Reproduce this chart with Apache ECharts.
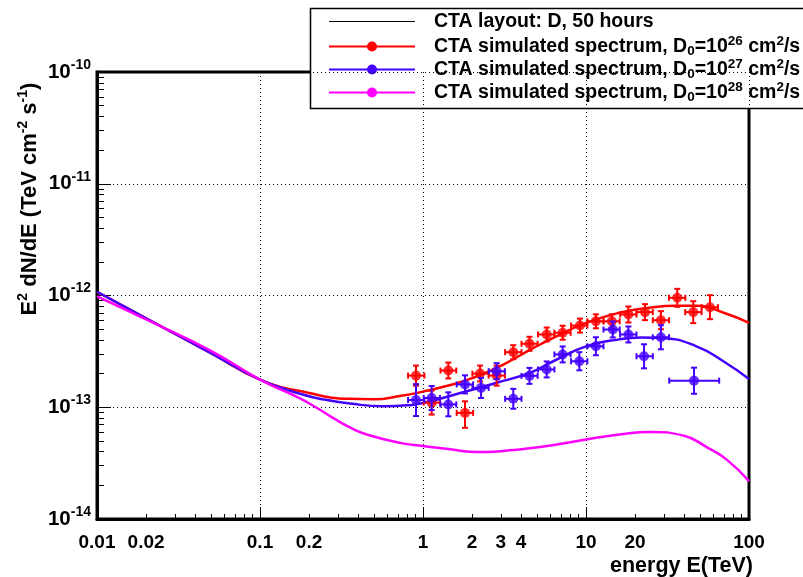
<!DOCTYPE html>
<html><head><meta charset="utf-8">
<script src="https://cdn.jsdelivr.net/npm/echarts@6/dist/echarts.min.js"></script>
<style>html,body{margin:0;padding:0;background:#fff}#c{width:803px;height:577px}</style>
</head><body><div id="c"></div>
<script>
// ---- tick labels ----
const xTickLabels = [0.01, 0.02, 0.1, 0.2, 1, 2, 3, 4, 10, 20, 100];
const yDecadeExponents = [-14, -13, -12, -11, -10];

// ---- model curves (E [TeV], E^2 dN/dE) ----
const redCurveE = [0.01, 0.02, 0.05, 0.1, 0.2, 0.35, 0.5, 0.72, 1, 1.47, 2, 3, 4.5, 6.3, 10, 16, 25, 35, 48, 70, 100];
const redCurveV = [1.08e-12, 6.25e-13, 3.05e-13, 1.77e-13, 1.34e-13, 1.19e-13, 1.18e-13, 1.26e-13, 1.38e-13, 1.58e-13, 1.82e-13, 2.35e-13, 3.25e-13, 4.18e-13, 5.69e-13, 7.0e-13, 7.8e-13, 8.1e-13, 8.1e-13, 7.0e-13, 5.69e-13];
const blueCurveE = [0.01, 0.02, 0.05, 0.1, 0.176, 0.25, 0.356, 0.57, 0.8, 1, 1.85, 2.8, 4.5, 6.3, 10, 16, 22, 30, 47.6, 69.6, 100];
const blueCurveV = [1.08e-12, 6.25e-13, 3.05e-13, 1.77e-13, 1.32e-13, 1.17e-13, 1.08e-13, 1.02e-13, 1.04e-13, 1.09e-13, 1.39e-13, 1.65e-13, 2.03e-13, 2.58e-13, 3.51e-13, 4.05e-13, 4.2e-13, 4.15e-13, 3.51e-13, 2.58e-13, 1.79e-13];
const magCurveE = [0.01, 0.02, 0.05, 0.1, 0.176, 0.22, 0.282, 0.356, 0.452, 0.72, 1, 1.47, 1.93, 2.45, 3.38, 5.23, 10, 16, 24.7, 40, 55, 73, 100];
const magCurveV = [0.98e-12, 6.1e-13, 3.2e-13, 1.77e-13, 1.2e-13, 1.0e-13, 8.0e-14, 6.6e-14, 5.7e-14, 4.8e-14, 4.5e-14, 4.21e-14, 4.0e-14, 3.98e-14, 4.12e-14, 4.4e-14, 5.14e-14, 5.7e-14, 6.02e-14, 5.55e-14, 4.4e-14, 3.4e-14, 2.18e-14];

// ---- simulated data points, D0 = 1e26 ----
const redE   = [0.906, 1.13, 1.43, 1.81, 2.24, 2.83, 3.58, 4.5, 5.74, 7.19, 9.18, 11.5, 14.4, 18.2, 23.0, 28.8, 36.3, 45.5, 57.6];
const redY   = [1.92e-13, 1.10e-13, 2.13e-13, 8.9e-14, 2.0e-13, 1.92e-13, 3.11e-13, 3.7e-13, 4.48e-13, 4.64e-13, 5.38e-13, 5.88e-13, 5.88e-13, 6.76e-13, 7.1e-13, 6.01e-13, 9.53e-13, 7.1e-13, 7.86e-13];
const redYLo = [1.56e-13, 0.86e-13, 1.81e-13, 6.55e-14, 1.70e-13, 1.56e-13, 2.69e-13, 3.2e-13, 3.88e-13, 4.02e-13, 4.66e-13, 5.09e-13, 5.09e-13, 5.73e-13, 6.02e-13, 4.99e-13, 7.92e-13, 5.66e-13, 6.14e-13];
const redYHi = [2.36e-13, 1.41e-13, 2.51e-13, 1.13e-13, 2.36e-13, 2.36e-13, 3.59e-13, 4.27e-13, 5.17e-13, 5.36e-13, 6.21e-13, 6.79e-13, 6.79e-13, 7.97e-13, 8.37e-13, 7.24e-13, 1.147e-12, 8.9e-13, 1.007e-12];
const redXLo = [0.81, 1.01, 1.28, 1.61, 2.01, 2.53, 3.19, 4.02, 5.08, 6.4, 8.1, 10.2, 12.8, 16.2, 20.4, 25.7, 32.3, 40.6, 51.2];
const redXHi = [1.02, 1.27, 1.60, 2.03, 2.53, 3.18, 4.02, 5.05, 6.4, 8.05, 10.2, 12.8, 16.1, 20.4, 25.7, 32.3, 40.7, 51.2, 64.5];

// ---- simulated data points, D0 = 1e27 ----
const blueE   = [0.906, 1.13, 1.43, 1.81, 2.27, 2.83, 3.58, 4.5, 5.74, 7.19, 9.1, 11.5, 14.6, 18.2, 22.7, 28.8, 46];
const blueY   = [1.16e-13, 1.21e-13, 1.06e-13, 1.6e-13, 1.49e-13, 2.1e-13, 1.19e-13, 1.91e-13, 2.18e-13, 2.97e-13, 2.58e-13, 3.51e-13, 4.96e-13, 4.48e-13, 2.86e-13, 4.23e-13, 1.73e-13];
const blueYLo = [0.834e-13, 0.945e-13, 0.83e-13, 1.33e-13, 1.21e-13, 1.78e-13, 0.97e-13, 1.62e-13, 1.85e-13, 2.52e-13, 2.14e-13, 2.92e-13, 4.21e-13, 3.8e-13, 2.23e-13, 3.3e-13, 1.32e-13];
const blueYHi = [1.61e-13, 1.55e-13, 1.36e-13, 1.93e-13, 1.83e-13, 2.48e-13, 1.46e-13, 2.25e-13, 2.57e-13, 3.5e-13, 3.11e-13, 4.23e-13, 5.85e-13, 5.28e-13, 3.66e-13, 5.42e-13, 2.26e-13];
const blueXLo = [0.81, 1.01, 1.28, 1.61, 2.01, 2.53, 3.19, 4.02, 5.08, 6.4, 8.1, 10.2, 12.8, 16.2, 20.4, 25.7, 32.4];
const blueXHi = [1.02, 1.27, 1.60, 2.03, 2.53, 3.18, 4.02, 5.05, 6.4, 8.05, 10.2, 12.8, 16.1, 20.4, 25.7, 32.3, 65.6];

const RED = '#ff0000', BLUE = '#4400ff', MAG = '#ff00ff';
const FONT = 'Liberation Sans, Arial, Helvetica, sans-serif';
const L = Math.log10;

function curve(E, V) { return E.map((e, i) => [L(e), L(V[i])]); }
function pts(E, Y) { return E.map((e, i) => [L(e), L(Y[i])]); }
function errs(E, Y, xlo, xhi, ylo, yhi) {
  return E.map((e, i) => [L(e), L(Y[i]), L(xlo[i]), L(xhi[i]), L(ylo[i]), L(yhi[i])]);
}

const xMinor = [], yMinor = [];
for (let d = -2; d < 2; d++) for (let k = 2; k <= 9; k++) xMinor.push(L(k) + d);
for (let d = -14; d < -10; d++) for (let k = 2; k <= 9; k++) yMinor.push(L(k) + d);

function errRender(color) {
  return function (params, api) {
    const x = api.value(0), y = api.value(1);
    const p = api.coord([x, y]);
    const xl = api.coord([api.value(2), y])[0], xh = api.coord([api.value(3), y])[0];
    const yl = api.coord([x, api.value(4)])[1], yh = api.coord([x, api.value(5)])[1];
    const st = { stroke: color, lineWidth: 2 };
    const c = 3;
    return { type: 'group', children: [
      { type: 'line', shape: { x1: xl, y1: p[1], x2: xh, y2: p[1] }, style: st },
      { type: 'line', shape: { x1: p[0], y1: yl, x2: p[0], y2: yh }, style: st },
      { type: 'line', shape: { x1: xl, y1: p[1] - c, x2: xl, y2: p[1] + c }, style: st },
      { type: 'line', shape: { x1: xh, y1: p[1] - c, x2: xh, y2: p[1] + c }, style: st },
      { type: 'line', shape: { x1: p[0] - c, y1: yl, x2: p[0] + c, y2: yl }, style: st },
      { type: 'line', shape: { x1: p[0] - c, y1: yh, x2: p[0] + c, y2: yh }, style: st }
    ]};
  };
}

const rich = {
  n: { fontSize: 19.5, fontWeight: 'bold', fontFamily: FONT, lineHeight: 24, fill: '#000', color: '#000' },
  sup: { fontSize: 13.5, fontWeight: 'bold', fontFamily: FONT, lineHeight: 13, verticalAlign: 'top', fill: '#000', color: '#000' },
  sub: { fontSize: 13.5, fontWeight: 'bold', fontFamily: FONT, lineHeight: 13, verticalAlign: 'bottom', fill: '#000', color: '#000' }
};

const legendRows = [
  { y: 21.5, color: '#000', marker: false, width: 1, text: '{n|CTA layout: D, 50 hours}' },
  { y: 46.5, color: RED, marker: true, width: 2, text: '{n|CTA simulated spectrum, D}{sub|0}{n|=10}{sup|26}{n| cm}{sup|2}{n|/s}' },
  { y: 69.5, color: BLUE, marker: true, width: 2, text: '{n|CTA simulated spectrum, D}{sub|0}{n|=10}{sup|27}{n| cm}{sup|2}{n|/s}' },
  { y: 92.5, color: MAG, marker: true, width: 2, text: '{n|CTA simulated spectrum, D}{sub|0}{n|=10}{sup|28}{n| cm}{sup|2}{n|/s}' }
];
const legendChildren = [
  { type: 'rect', shape: { x: 310.5, y: 8.5, width: 520, height: 100 }, style: { fill: '#fff', stroke: '#000', lineWidth: 1.5 } }
];
legendRows.forEach(r => {
  legendChildren.push({ type: 'line', shape: { x1: 329, y1: r.y, x2: 415, y2: r.y }, style: { stroke: r.color, lineWidth: r.width } });
  if (r.marker) legendChildren.push({ type: 'circle', shape: { cx: 372, cy: r.y, r: 5 }, style: { fill: r.color } });
  legendChildren.push({ type: 'text', x: 434, y: r.y, style: { text: r.text, rich: rich, verticalAlign: 'middle', align: 'left' } });
});

const chart = echarts.init(document.getElementById('c'), null, { renderer: 'canvas' });
chart.setOption({
  animation: false,
  backgroundColor: '#fff',
  grid: { left: 97, right: 54, top: 72, bottom: 58, show: true, borderColor: '#000', borderWidth: 3, backgroundColor: 'transparent' },
  xAxis: [
    { type: 'value', min: -2, max: 2, interval: 1, position: 'bottom',
      axisLine: { show: true, onZero: false, lineStyle: { color: '#000', width: 3 } },
      axisTick: { show: true, inside: true, length: 12, lineStyle: { color: '#000', width: 1 } },
      axisLabel: { show: true, customValues: xTickLabels.map(v => L(v)), margin: 14, fontSize: 19, fontWeight: 'bold', fontFamily: FONT, color: '#000',
        formatter: v => { const f = xTickLabels.find(t => Math.abs(L(t) - v) < 1e-6); return f === undefined ? '' : String(f); } },
      splitLine: { show: true, lineStyle: { color: '#000', width: 1, type: [1, 3] } } },
    { type: 'value', min: -2, max: 2, position: 'bottom', offset: 0,
      axisLine: { show: false, onZero: false }, axisLabel: { show: false }, splitLine: { show: false },
      axisTick: { show: true, inside: true, length: 5, customValues: xMinor, lineStyle: { color: '#000', width: 1 } } }
  ],
  yAxis: [
    { type: 'value', min: -14, max: -10, interval: 1, position: 'left',
      axisLine: { show: true, onZero: false, lineStyle: { color: '#000', width: 3 } },
      axisTick: { show: true, inside: true, length: 14, lineStyle: { color: '#000', width: 1 } },
      axisLabel: { show: true, margin: 6, formatter: v => '{b|10}{s|' + Math.round(v) + '}',
        rich: { b: { fontSize: 20.5, fontWeight: 'bold', fontFamily: FONT, color: '#000', lineHeight: 28 },
                s: { fontSize: 14, fontWeight: 'bold', fontFamily: FONT, color: '#000', lineHeight: 14, verticalAlign: 'top' } } },
      splitLine: { show: true, lineStyle: { color: '#000', width: 1, type: [1, 3] } } },
    { type: 'value', min: -14, max: -10, position: 'left', offset: 0,
      axisLine: { show: false, onZero: false }, axisLabel: { show: false }, splitLine: { show: false },
      axisTick: { show: true, inside: true, length: 7, customValues: yMinor, lineStyle: { color: '#000', width: 1 } } }
  ],
  series: [
    { type: 'line', name: 'D0=1e26 model', data: curve(redCurveE, redCurveV), smooth: true, showSymbol: false, symbol: 'none', lineStyle: { color: RED, width: 2.5 }, z: 2 },
    { type: 'line', name: 'D0=1e27 model', data: curve(blueCurveE, blueCurveV), smooth: true, showSymbol: false, symbol: 'none', lineStyle: { color: BLUE, width: 2.5 }, z: 3 },
    { type: 'line', name: 'D0=1e28 model', data: curve(magCurveE, magCurveV), smooth: true, showSymbol: false, symbol: 'none', lineStyle: { color: MAG, width: 2.5 }, z: 4 },
    { type: 'custom', name: 'red err', data: errs(redE, redY, redXLo, redXHi, redYLo, redYHi), renderItem: errRender(RED), encode: { x: 0, y: 1 }, z: 5 },
    { type: 'scatter', name: 'red pts', data: pts(redE, redY), symbol: 'circle', symbolSize: 10, itemStyle: { color: RED }, z: 6 },
    { type: 'custom', name: 'blue err', data: errs(blueE, blueY, blueXLo, blueXHi, blueYLo, blueYHi), renderItem: errRender(BLUE), encode: { x: 0, y: 1 }, z: 7 },
    { type: 'scatter', name: 'blue pts', data: pts(blueE, blueY), symbol: 'circle', symbolSize: 10, itemStyle: { color: BLUE }, z: 8 }
  ],
  graphic: [
    { type: 'group', z: 100, children: legendChildren },
    { type: 'text', z: 100, x: 753, y: 566, style: { text: 'energy E(TeV)', font: 'bold 21.5px ' + FONT, fill: '#000', align: 'right', verticalAlign: 'middle' } },
    { type: 'text', z: 100, x: 30, y: 199, rotation: Math.PI / 2,
      style: { text: '{t|E}{u|2}{t| dN/dE (TeV cm}{u|-2}{t| s}{u|-1}{t|)}', align: 'center', verticalAlign: 'middle',
        rich: { t: { fontSize: 22, fontWeight: 'bold', fontFamily: FONT, fill: '#000', lineHeight: 28 },
                u: { fontSize: 14, fontWeight: 'bold', fontFamily: FONT, fill: '#000', lineHeight: 14, verticalAlign: 'top' } } } }
  ]
});
</script></body></html>
